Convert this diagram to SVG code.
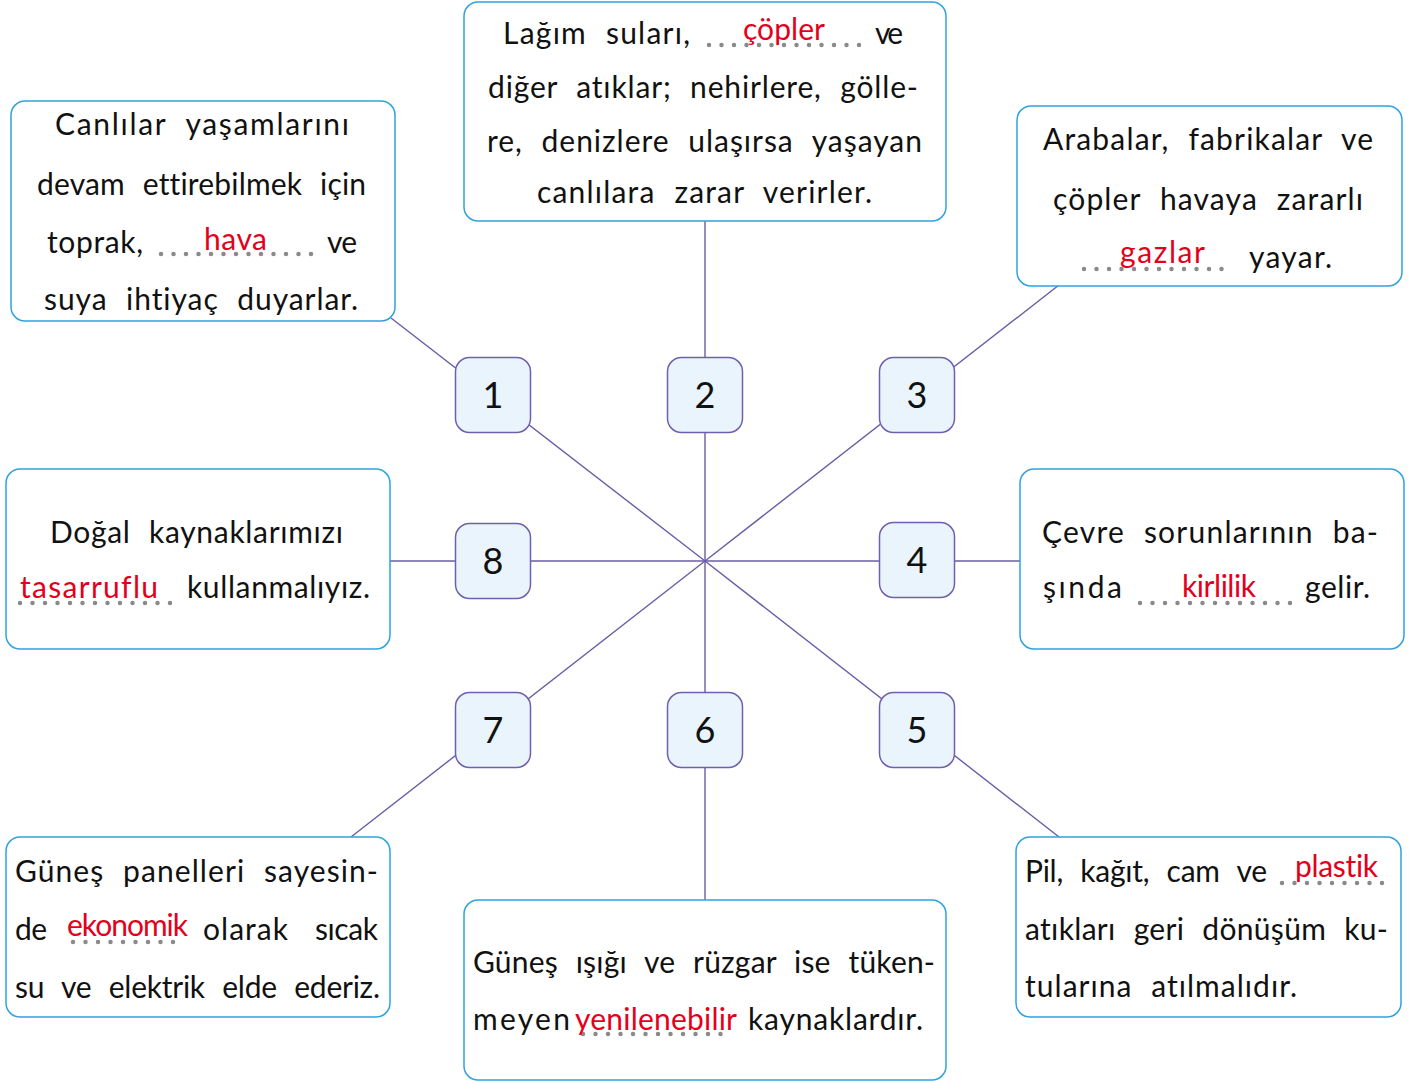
<svg xmlns="http://www.w3.org/2000/svg" width="1418" height="1081" viewBox="0 0 1418 1081">
<style>
.box{fill:#ffffff;stroke:#2ea3e0;stroke-width:1.5}
.num{fill:#e9f4fd;stroke:#6f5fae;stroke-width:1.5}
.conn{stroke:#6b5ca5;stroke-width:1.4;fill:none}
text{font-family:"Lato","Noto Sans","DejaVu Sans",sans-serif;font-size:30px;fill:#111;word-spacing:10px;font-variant-ligatures:none}
.red{fill:#e3001b}
.n{font-size:36px;text-anchor:middle}
.dots{stroke:#8a8a8a;stroke-width:4.5;stroke-linecap:round;stroke-dasharray:0 12.5;fill:none}
</style>
<rect width="1418" height="1081" fill="#ffffff"/>
<g id="connectors">
<line class="conn" x1="705" y1="561" x2="391" y2="318"/>
<line class="conn" x1="705" y1="561" x2="705" y2="221"/>
<line class="conn" x1="705" y1="561" x2="1059" y2="285"/>
<line class="conn" x1="705" y1="561" x2="1020" y2="561"/>
<line class="conn" x1="705" y1="561" x2="1059" y2="837"/>
<line class="conn" x1="705" y1="561" x2="705" y2="900"/>
<line class="conn" x1="705" y1="561" x2="351" y2="837"/>
<line class="conn" x1="705" y1="561" x2="390" y2="561"/>
</g>
<g id="box1">
<rect class="box" x="11" y="101" width="384" height="220" rx="14"/>
<text x="55" y="135" textLength="294">Canlılar yaşamlarını</text>
<text x="37" y="195" textLength="329">devam ettirebilmek için</text>
<text x="47" y="253" textLength="96">toprak,</text>
<line class="dots" x1="161" y1="254" x2="313" y2="254"/>
<text class="red" x="204" y="250" textLength="63">hava</text>
<text x="327" y="253" textLength="30">ve</text>
<text x="44" y="310" textLength="314">suya ihtiyaç duyarlar.</text>
</g>
<g id="box2">
<rect class="box" x="464" y="2" width="482" height="219" rx="14"/>
<text x="503" y="44" textLength="187">Lağım suları,</text>
<line class="dots" x1="709" y1="45" x2="861" y2="45"/>
<text class="red" x="743" y="40" textLength="82">çöpler</text>
<text x="875" y="44" textLength="28">ve</text>
<text x="488" y="98" textLength="430">diğer atıklar; nehirlere, gölle-</text>
<text x="487" y="152" textLength="435">re, denizlere ulaşırsa yaşayan</text>
<text x="537" y="203" textLength="335">canlılara zarar verirler.</text>
</g>
<g id="box3">
<rect class="box" x="1017" y="106" width="385" height="180" rx="14"/>
<text x="1043" y="150" textLength="330">Arabalar, fabrikalar ve</text>
<text x="1053" y="210" textLength="310">çöpler havaya zararlı</text>
<line class="dots" x1="1084" y1="269" x2="1234" y2="269"/>
<text class="red" x="1120" y="263" textLength="85">gazlar</text>
<text x="1249" y="268" textLength="83">yayar.</text>
</g>
<g id="box4">
<rect class="box" x="6" y="469" width="384" height="180" rx="14"/>
<text x="50" y="543" textLength="293">Doğal kaynaklarımızı</text>
<line class="dots" x1="20" y1="603" x2="171" y2="603"/>
<text class="red" x="20" y="598" textLength="138">tasarruflu</text>
<text x="187" y="598" textLength="183">kullanmalıyız.</text>
</g>
<g id="box5">
<rect class="box" x="1020" y="469" width="384" height="180" rx="14"/>
<text x="1042" y="543" textLength="336">Çevre sorunlarının ba-</text>
<text x="1043" y="598" textLength="79">şında</text>
<line class="dots" x1="1140" y1="603" x2="1291" y2="603"/>
<text class="red" x="1182" y="597" textLength="74">kirlilik</text>
<text x="1305" y="598" textLength="65">gelir.</text>
</g>
<g id="box6">
<rect class="box" x="6" y="837" width="384" height="180" rx="14"/>
<text x="15" y="882" textLength="363">Güneş panelleri sayesin-</text>
<text x="15" y="940" textLength="32">de</text>
<line class="dots" x1="73" y1="942" x2="178" y2="942"/>
<text class="red" x="67" y="936" textLength="121">ekonomik</text>
<text x="203" y="940" textLength="85">olarak</text>
<text x="315" y="940" textLength="63">sıcak</text>
<text x="15" y="998" textLength="365">su ve elektrik elde ederiz.</text>
</g>
<g id="box7">
<rect class="box" x="464" y="900" width="482" height="180" rx="14"/>
<text x="473" y="973" textLength="462">Güneş ışığı ve rüzgar ise tüken-</text>
<text x="473" y="1030" textLength="97">meyen</text>
<line class="dots" x1="583" y1="1034" x2="733" y2="1034"/>
<text class="red" x="575" y="1030" textLength="162">yenilenebilir</text>
<text x="748" y="1030" textLength="175">kaynaklardır.</text>
</g>
<g id="box8">
<rect class="box" x="1016" y="837" width="385" height="180" rx="14"/>
<text x="1025" y="882" textLength="242">Pil, kağıt, cam ve</text>
<line class="dots" x1="1282" y1="883" x2="1390" y2="883"/>
<text class="red" x="1295" y="877" textLength="83">plastik</text>
<text x="1025" y="940" textLength="363">atıkları geri dönüşüm ku-</text>
<text x="1025" y="997" textLength="272">tularına atılmalıdır.</text>
</g>
<g id="node1"><rect class="num" x="455.5" y="357.5" width="75" height="75" rx="14"/><text class="n" x="493" y="408">1</text></g>
<g id="node2"><rect class="num" x="667.5" y="357.5" width="75" height="75" rx="14"/><text class="n" x="705" y="408">2</text></g>
<g id="node3"><rect class="num" x="879.5" y="357.5" width="75" height="75" rx="14"/><text class="n" x="917" y="408">3</text></g>
<g id="node4"><rect class="num" x="879.5" y="522.5" width="75" height="75" rx="14"/><text class="n" x="917" y="573">4</text></g>
<g id="node5"><rect class="num" x="879.5" y="692.5" width="75" height="75" rx="14"/><text class="n" x="917" y="743">5</text></g>
<g id="node6"><rect class="num" x="667.5" y="692.5" width="75" height="75" rx="14"/><text class="n" x="705" y="743">6</text></g>
<g id="node7"><rect class="num" x="455.5" y="692.5" width="75" height="75" rx="14"/><text class="n" x="493" y="743">7</text></g>
<g id="node8"><rect class="num" x="455.5" y="523.5" width="75" height="75" rx="14"/><text class="n" x="493" y="574">8</text></g>
</svg>
